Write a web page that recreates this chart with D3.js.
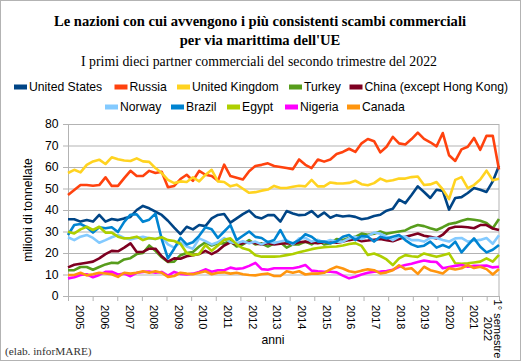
<!DOCTYPE html>
<html>
<head>
<meta charset="utf-8">
<script src="https://cdn.jsdelivr.net/npm/d3@7"></script>
<style>
  body { margin: 0; background: #fff; }
  svg { display: block; }
</style>
</head>
<body>
<div id="chart"></div>
<script>
// Quarterly sea-borne trade of the EU with its top ten partners (million tonnes)
const years = ['2005', '2006', '2007', '2008', '2009', '2010', '2011', '2012', '2013',
    '2014', '2015', '2016', '2017', '2018', '2019', '2020', '2021'];
const quarters = ['T1', 'T2', 'T3', 'T4'];
const periods = [];
years.forEach(y => quarters.forEach(q => periods.push(y + ' ' + q)));
periods.push('2022 T1', '2022 T2');

const lastLabel = ['1° semestre', '2022'];

const seriesNames = ['United States', 'Russia', 'United Kingdom', 'Turkey', 'China (except Hong Kong)',
    'Norway', 'Brazil', 'Egypt', 'Nigeria', 'Canada'];

const unitedStates = [35.7, 35.7, 34.6, 35.3, 34.6, 37.7, 34.6, 35.8, 35.3, 36.1,
    36.8, 40.0, 41.9, 40.8, 39.2, 37.7, 35.0, 31.8, 28.8, 32.2,
    31.0, 33.0, 32.5, 36.1, 37.7, 38.1, 34.1, 36.1, 38.1, 39.7,
    36.9, 36.1, 37.6, 37.6, 34.6, 39.5, 38.4, 37.6, 37.8, 39.5,
    36.8, 38.8, 36.4, 37.6, 37.0, 37.3, 36.8, 35.7, 36.2, 37.2,
    37.8, 39.7, 40.6, 44.8, 43.2, 47.0, 51.0, 48.4, 45.6, 49.4,
    48.9, 40.2, 45.6, 46.0, 47.9, 50.2, 49.4, 48.4, 53.3, 60.6];
const russia = [47.0, 49.3, 51.6, 51.6, 51.3, 51.6, 55.2, 51.2, 51.2, 54.8,
    58.2, 55.8, 55.8, 58.2, 57.2, 57.8, 50.6, 51.2, 54.4, 56.4,
    53.6, 58.2, 56.4, 55.8, 53.6, 61.1, 55.8, 55.0, 54.2, 58.0,
    60.5, 61.0, 61.7, 60.5, 60.0, 59.5, 59.0, 63.5, 61.0, 59.5,
    63.5, 62.5, 63.5, 66.0, 67.0, 68.5, 67.0, 71.0, 73.0, 72.0,
    66.8, 69.4, 74.0, 71.0, 70.5, 73.0, 76.0, 73.1, 71.5, 69.6,
    75.8, 65.5, 62.8, 68.2, 69.4, 73.5, 68.0, 74.5, 74.5, 58.8];
const unitedKingdom = [57.2, 58.7, 57.5, 61.0, 62.6, 63.4, 61.4, 64.5, 63.6, 63.0,
    62.8, 64.0, 62.6, 62.4, 59.5, 57.2, 54.0, 52.5, 53.3, 53.0,
    55.2, 53.3, 56.3, 58.7, 53.3, 53.0, 51.0, 51.8, 49.9, 48.0,
    48.3, 49.0, 49.5, 51.2, 50.2, 50.2, 50.8, 51.3, 51.0, 54.0,
    51.0, 51.0, 52.8, 52.4, 52.3, 52.6, 53.6, 52.0, 51.5, 52.5,
    54.6, 53.4, 53.8, 54.6, 54.6, 55.3, 55.6, 51.6, 51.9, 53.0,
    49.6, 45.1, 54.0, 55.3, 50.2, 51.6, 54.2, 58.3, 53.8, 54.5];
const turkey = [12.0, 12.0, 13.5, 13.5, 12.2, 13.5, 14.7, 15.5, 15.3, 17.0,
    17.6, 19.5, 20.0, 23.5, 21.0, 18.0, 15.8, 16.0, 19.0, 20.0,
    20.5, 23.0, 25.0, 23.5, 24.5, 24.5, 25.5, 23.0, 24.0, 26.0,
    24.0, 24.5, 23.0, 24.5, 25.0, 22.5, 24.0, 24.0, 25.3, 24.0,
    26.0, 24.0, 24.5, 26.5, 26.0, 27.0, 27.5, 29.0, 28.5, 29.0,
    30.0, 29.0, 29.5, 30.0, 30.5, 32.0, 33.0, 32.5, 31.5, 30.7,
    32.0, 33.5, 34.0, 35.0, 35.8, 35.5, 35.0, 34.0, 31.5, 35.8];
const china = [13.3, 14.5, 15.0, 15.5, 16.0, 17.5, 19.5, 21.0, 20.8, 22.5,
    24.5, 20.5, 20.5, 22.0, 22.0, 18.5, 16.0, 17.5, 17.3, 18.5,
    19.0, 19.5, 21.0, 19.5, 21.0, 23.5, 25.0, 24.0, 24.5, 25.0,
    24.5, 24.0, 24.5, 24.0, 24.3, 24.5, 24.2, 25.0, 25.3, 24.8,
    24.5, 25.0, 25.2, 24.8, 25.3, 26.0, 26.5, 25.5, 25.8, 26.2,
    26.5, 26.0, 25.5, 26.5, 27.5, 28.3, 29.1, 28.0, 27.5, 26.8,
    28.5, 31.4, 32.2, 32.2, 32.0, 31.5, 33.0, 33.0, 31.4, 30.7];
const norway = [27.3, 26.0, 27.6, 28.4, 27.0, 24.8, 26.0, 27.3, 28.4, 27.0,
    26.3, 27.0, 27.5, 26.8, 26.5, 27.5, 24.0, 22.5, 25.0, 23.0,
    22.0, 26.8, 25.5, 24.0, 25.0, 27.0, 25.0, 24.5, 25.5, 24.5,
    25.3, 24.0, 25.3, 24.6, 25.3, 26.0, 24.0, 26.8, 27.0, 25.3,
    26.0, 25.0, 26.0, 25.3, 25.3, 26.8, 27.5, 26.5, 28.0, 29.5,
    29.0, 27.6, 26.0, 27.6, 27.6, 26.0, 26.0, 25.3, 27.0, 27.0,
    26.1, 25.3, 26.8, 27.0, 25.3, 25.8, 26.1, 27.0, 24.3, 28.3];
const brazil = [28.4, 33.0, 33.5, 32.0, 29.5, 32.0, 31.5, 32.0, 29.8, 34.5,
    37.8, 38.0, 34.5, 35.5, 38.3, 26.5, 17.5, 22.0, 27.0, 24.0,
    25.0, 28.0, 32.0, 31.0, 27.0, 30.0, 33.0, 26.0, 28.0, 30.0,
    27.5, 27.0, 25.0, 26.0, 30.7, 25.3, 24.5, 26.0, 28.7, 27.6,
    25.3, 25.3, 24.5, 25.3, 27.6, 28.4, 26.0, 27.9, 27.6, 25.3,
    27.6, 26.8, 27.6, 28.4, 26.0, 24.0, 22.9, 23.4, 25.3, 22.5,
    23.7, 22.5, 25.3, 20.3, 23.7, 26.8, 22.9, 20.3, 21.5, 23.7];
const egypt = [29.9, 29.1, 31.0, 32.2, 30.7, 32.2, 29.5, 29.5, 27.6, 26.8,
    27.0, 27.6, 26.0, 27.0, 26.5, 27.3, 26.0, 25.6, 24.3, 20.0,
    19.0, 19.5, 23.7, 21.0, 23.5, 26.1, 26.8, 24.0, 22.2, 21.4,
    19.0, 18.3, 18.3, 18.3, 18.5, 19.0, 19.5, 20.3, 21.0, 21.8,
    22.3, 22.7, 22.9, 23.0, 23.5, 24.2, 24.6, 23.3, 19.1, 19.8,
    18.6, 17.0, 14.4, 17.5, 19.0, 18.5, 18.2, 19.8, 19.0, 18.2,
    19.0, 19.8, 15.2, 15.0, 15.2, 15.6, 16.0, 17.5, 16.0, 19.1];
const nigeria = [8.2, 8.7, 9.8, 10.1, 8.7, 9.8, 11.2, 11.3, 10.0, 10.4,
    9.2, 10.8, 11.2, 11.4, 10.8, 11.2, 9.5, 11.2, 10.2, 10.0,
    10.4, 11.2, 12.4, 11.3, 12.0, 12.0, 13.2, 12.6, 12.9, 14.0,
    15.4, 12.5, 12.2, 12.9, 12.9, 12.9, 12.9, 13.5, 14.4, 11.8,
    11.5, 11.3, 11.3, 11.0, 9.5, 8.2, 9.0, 10.0, 10.8, 11.3,
    11.4, 11.6, 12.2, 13.6, 14.4, 15.0, 15.8, 16.5, 16.0, 15.8,
    12.9, 13.5, 14.0, 14.4, 13.6, 14.0, 14.1, 14.2, 13.3, 13.6];
const canada = [9.8, 9.8, 10.8, 9.6, 10.1, 10.8, 10.5, 10.1, 8.9, 10.8,
    10.4, 10.8, 11.5, 10.8, 11.5, 10.8, 8.9, 9.3, 10.8, 10.4,
    10.1, 10.8, 11.5, 10.1, 10.8, 11.0, 10.4, 10.8, 10.1, 9.8,
    9.6, 10.1, 10.4, 9.3, 9.3, 11.5, 10.8, 11.5, 10.0, 10.4,
    10.4, 10.8, 12.4, 13.6, 12.8, 11.5, 11.0, 11.8, 12.4, 12.0,
    10.5, 11.0, 12.0, 14.3, 12.5, 12.9, 10.3, 13.6, 12.0, 11.3,
    10.5, 12.9, 12.3, 12.9, 14.4, 13.0, 13.6, 12.5, 10.0, 12.6];

const seriesValues = [unitedStates, russia, unitedKingdom, turkey, china,
    norway, brazil, egypt, nigeria, canada];
const seriesColors = ['#004586', '#ff420e', '#ffd320', '#579d1c', '#7e0021',
    '#83caff', '#0084d1', '#aecf00', '#ff00ff', '#ff950e'];

const width = 521;
const height = 361;
const margin = { top: 124, right: 22, bottom: 65, left: 68 };
const plotW = width - margin.left - margin.right;
const plotH = height - margin.top - margin.bottom;
const gridColor = '#b3b3b3';
const sans = '"Liberation Sans", Arial, sans-serif';
const serif = '"Liberation Serif", "Times New Roman", serif';

const svg = d3.select('#chart')
    .append('svg')
    .attr('width', width)
    .attr('height', height)
    .style('font-family', sans);

svg.append('rect')
    .attr('x', 0.5)
    .attr('y', 0.5)
    .attr('width', width - 1)
    .attr('height', height - 1)
    .attr('fill', '#fff')
    .attr('stroke', '#b3b3b3');

// Titles
svg.append('text')
    .attr('x', 260).attr('y', 26)
    .attr('text-anchor', 'middle')
    .style('font-family', serif)
    .style('font-size', '14.6px')
    .style('font-weight', 'bold')
    .text('Le nazioni con cui avvengono i più consistenti scambi commerciali');

svg.append('text')
    .attr('x', 260).attr('y', 45)
    .attr('text-anchor', 'middle')
    .style('font-family', serif)
    .style('font-size', '14.6px')
    .style('font-weight', 'bold')
    .text("per via marittima dell'UE");

svg.append('text')
    .attr('x', 259).attr('y', 66)
    .attr('text-anchor', 'middle')
    .style('font-family', serif)
    .style('font-size', '13.8px')
    .text('I primi dieci partner commerciali del secondo trimestre del 2022');

// Legend (two rows)
const legendTextX = [29, 129.5, 192, 304, 364.5, 120, 186, 242, 300, 362];
const legendRowY = [87, 107];

const legend = svg.append('g');
seriesNames.forEach((name, i) => {
    const row = i < 5 ? 0 : 1;
    legend.append('rect')
        .attr('x', legendTextX[i] - 15)
        .attr('y', legendRowY[row] - 2.5)
        .attr('width', 13)
        .attr('height', 5)
        .attr('fill', seriesColors[i]);
    legend.append('text')
        .attr('x', legendTextX[i])
        .attr('y', legendRowY[row])
        .attr('dy', '0.36em')
        .style('font-size', '12.2px')
        .text(name);
});

const g = svg.append('g')
    .attr('transform', `translate(${margin.left},${margin.top})`);

// Scales
const x = d3.scalePoint()
    .domain(periods)
    .range([0, plotW]);

const xYear = d3.scaleLinear()
    .domain([+years[0], 2022.5])
    .range([0, plotW]);

const y = d3.scaleLinear()
    .domain([0, 80])
    .range([plotH, 0]);

// Grid lines
const grid = g.append('g')
    .call(d3.axisLeft(y).ticks(8).tickSize(-plotW).tickFormat(''));
grid.selectAll('line').attr('stroke', gridColor);
grid.select('.domain').remove();

// Right frame line
g.append('line')
    .attr('x1', plotW).attr('x2', plotW)
    .attr('y1', 0).attr('y2', plotH)
    .attr('stroke', gridColor);

// Y axis
const yAxis = g.append('g')
    .call(d3.axisLeft(y).ticks(8).tickSize(5).tickPadding(4.5));
yAxis.selectAll('line').attr('stroke', gridColor);
yAxis.select('.domain').attr('stroke', gridColor);
yAxis.selectAll('text')
    .attr('fill', '#000')
    .style('font-family', sans)
    .style('font-size', '12.2px');

svg.append('text')
    .attr('transform', `translate(31.5,${margin.top + plotH / 2}) rotate(-90)`)
    .attr('text-anchor', 'middle')
    .style('font-size', '12.2px')
    .text('milioni di tonnellate');

// X axis: year boundaries
const tickYears = years.map(Number).concat([2022, 2022.5]);
const xAxis = g.append('g')
    .attr('transform', `translate(0,${plotH})`)
    .call(d3.axisBottom(xYear).tickValues(tickYears).tickSize(5).tickFormat(''));
xAxis.selectAll('line').attr('stroke', gridColor);
xAxis.select('.domain').attr('stroke', gridColor);

const labelY = plotH + 9;
g.selectAll('.year-label')
    .data(years)
    .enter()
    .append('text')
    .attr('class', 'year-label')
    .attr('transform', d => `translate(${xYear(+d + 0.5)},${labelY}) rotate(90)`)
    .attr('dy', '0.36em')
    .style('font-size', '11px')
    .text(d => d);

const last = g.append('text')
    .attr('transform', `translate(${xYear(2022.25)},${labelY}) rotate(90)`)
    .attr('text-anchor', 'middle')
    .style('font-size', '11px');
last.append('tspan')
    .attr('x', 24).attr('dy', '-0.15em')
    .text(lastLabel[0]);
last.append('tspan')
    .attr('x', 24).attr('dy', '0.95em')
    .text(lastLabel[1]);

svg.append('text')
    .attr('x', 273).attr('y', 344)
    .attr('text-anchor', 'middle')
    .style('font-size', '12.2px')
    .text('anni');

svg.append('text')
    .attr('x', 5).attr('y', 355)
    .attr('fill', '#333')
    .style('font-family', serif)
    .style('font-size', '11.3px')
    .text('(elab. inforMARE)');

// Lines
const line = d3.line()
    .x((d, i) => x(periods[i]))
    .y(d => y(d));

g.selectAll('.series')
    .data(seriesValues)
    .enter()
    .append('path')
    .attr('class', 'series')
    .attr('d', d => line(d))
    .attr('fill', 'none')
    .attr('stroke', (d, i) => seriesColors[i])
    .attr('stroke-width', 2.6)
    .attr('stroke-linejoin', 'round');
</script>
</body>
</html>
